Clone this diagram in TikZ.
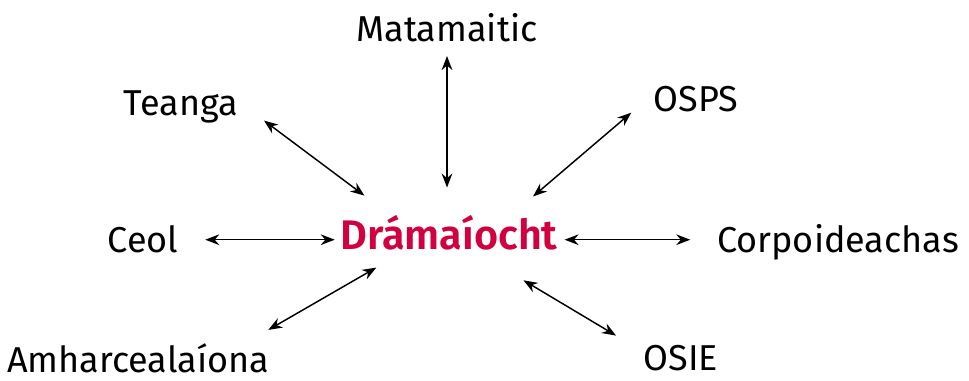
\documentclass[tikz,border=0pt]{standalone}
\usepackage{fontspec}
\setmainfont{Fira Sans}
\newfontfamily\hubfont{Fira Sans SemiBold}
\usepackage{xcolor}
\usetikzlibrary{arrows.meta,positioning,calc}
\definecolor{dramared}{HTML}{D1003F}

\begin{document}
\begin{tikzpicture}[
    x=0.75pt, y=0.75pt,
    subj/.style={font=\fontsize{27}{32}\selectfont, inner sep=0pt, anchor=base},
    hub/.style={font=\fontsize{31}{36}\selectfont\hubfont\color{dramared}, inner sep=0pt, anchor=base},
    arr/.style={{Stealth[length=10.5pt,width=8pt]}-{Stealth[length=10.5pt,width=8pt]}, line width=1.1pt}
]
    \useasboundingbox (0,0) rectangle (969,381);

    % centre
    \node (drama) [hub] at (449,131) {Drámaíocht};

    % subjects round it
    \node (mata)   [subj] at (447,339) {Matamaitic};
    \node (teanga) [subj] at (181,265) {Teanga};
    \node (osps)   [subj] at (696,269) {OSPS};
    \node (ceol)   [subj] at (143,128) {Ceol};
    \node (corp)   [subj] at (838,128) {Corpoideachas};
    \node (amh)    [subj] at (138,8)   {Amharcealaíona};
    \node (osie)   [subj] at (681,10)  {OSIE};

    % links
    \draw[arr, shorten <=10pt, shorten >=21pt] (mata.south) -- (mata.south |- drama.north);
    \draw[arr, shorten <=24pt, shorten >=25pt] (teanga.6) -- (drama.163);
    \draw[arr, shorten <=22pt, shorten >=22pt] (osps.172) -- (drama.16);
    \draw[arr, shorten <=20pt, shorten >=4pt] (ceol.east) -- (ceol.east -| drama.west);
    \draw[arr, shorten <=5pt, shorten >=20pt] (drama.east |- ceol.east) -- (corp.west |- ceol.east);
    \draw[arr, shorten <=21pt, shorten >=25pt] (amh.8) -- (drama.202);
    \draw[arr, shorten <=43pt, shorten >=24pt] (drama.325) -- (osie.170);
\end{tikzpicture}
\end{document}
